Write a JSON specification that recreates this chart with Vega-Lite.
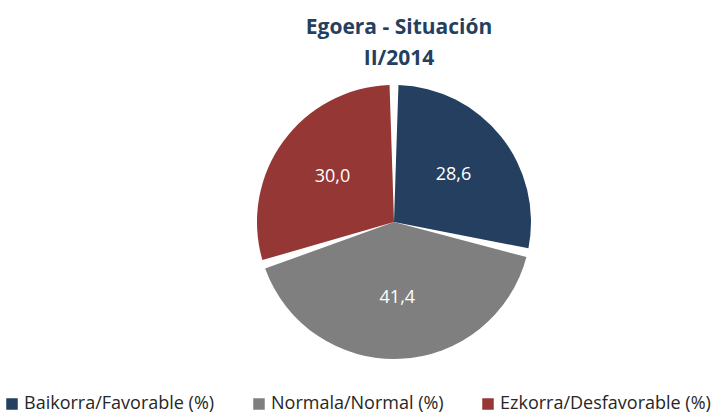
{
  "$schema": "https://vega.github.io/schema/vega-lite/v6.json",
  "autosize": {"type": "none"},
  "padding": {"left": 254, "top": 82, "right": 189, "bottom": 54},
  "width": 280,
  "height": 280,
  "background": "white",
  "title": {
    "text": ["Egoera - Situación", "II/2014"],
    "font": "Open Sans",
    "fontSize": 21,
    "fontWeight": "bold",
    "color": "#243F60",
    "anchor": "middle",
    "lineHeight": 31,
    "offset": 13,
    "dx": 5
  },
  "data": {
    "values": [
      {"categoria": "Baikorra/Favorable (%)", "valor": 28.6, "etiqueta": "28,6", "orden": 1},
      {"categoria": "Normala/Normal (%)", "valor": 41.4, "etiqueta": "41,4", "orden": 2},
      {"categoria": "Ezkorra/Desfavorable (%)", "valor": 30.0, "etiqueta": "30,0", "orden": 3}
    ]
  },
  "encoding": {
    "theta": {"field": "valor", "type": "quantitative", "stack": true},
    "order": {"field": "orden", "type": "quantitative"},
    "color": {
      "field": "categoria",
      "type": "nominal",
      "sort": ["Baikorra/Favorable (%)", "Normala/Normal (%)", "Ezkorra/Desfavorable (%)"],
      "scale": {
        "domain": ["Baikorra/Favorable (%)", "Normala/Normal (%)", "Ezkorra/Desfavorable (%)"],
        "range": ["#243F60", "#7F7F7F", "#953735"]
      },
      "legend": {
        "title": null,
        "orient": "none",
        "legendX": -251,
        "legendY": 313,
        "direction": "horizontal",
        "columns": 3,
        "columnPadding": 35,
        "symbolType": "square",
        "symbolSize": 132,
        "symbolStrokeWidth": 0,
        "symbolOpacity": 1,
        "labelFont": "Open Sans",
        "labelFontSize": 18,
        "labelColor": "#262626",
        "labelLimit": 400,
        "labelOffset": 3
      }
    }
  },
  "layer": [
    {
      "mark": {"type": "arc", "outerRadius": 137, "padAngle": 0.065}
    },
    {
      "mark": {"type": "text", "radius": 76, "font": "Open Sans", "fontSize": 18, "color": "white"},
      "encoding": {
        "text": {"field": "etiqueta", "type": "nominal"},
        "color": {"value": "white"}
      }
    }
  ],
  "config": {"view": {"stroke": null}}
}
